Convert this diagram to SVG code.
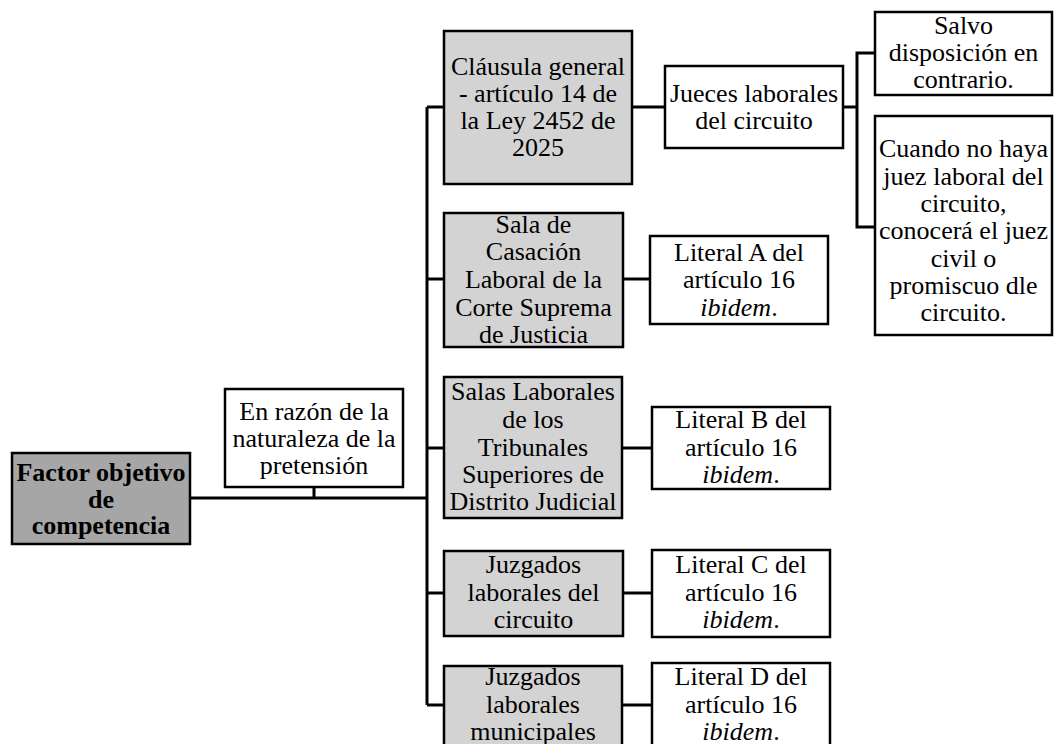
<svg xmlns="http://www.w3.org/2000/svg" width="1055" height="744" viewBox="0 0 1055 744" font-family="'Liberation Serif', 'Times New Roman', 'DejaVu Serif', serif">
<style>
.box{fill:#ffffff;stroke:#000;stroke-width:2.5}
.gray{fill:#d3d3d3;stroke:#000;stroke-width:2.5}
.dark{fill:#a6a6a6;stroke:#000;stroke-width:2.5}
text{font-family:'Liberation Serif','Times New Roman','DejaVu Serif',serif;font-size:26px;fill:#000;text-anchor:middle}
.b{font-weight:bold}
.i{font-style:italic}
.conn{fill:none;stroke:#000;stroke-width:3}
</style>
<rect width="1055" height="744" fill="#ffffff"/>
<g id="connectors">
<path class="conn" d="M190 498 H427"/>
<path class="conn" d="M314 487 V498"/>
<path class="conn" d="M427 107 V705"/>
<path class="conn" d="M427 107 H444"/>
<path class="conn" d="M427 279 H444"/>
<path class="conn" d="M427 448 H444"/>
<path class="conn" d="M427 593 H444"/>
<path class="conn" d="M427 705 H444"/>
<path class="conn" d="M632 107 H665"/>
<path class="conn" d="M623 279 H650"/>
<path class="conn" d="M622 448 H652"/>
<path class="conn" d="M623 593 H652"/>
<path class="conn" d="M622 705 H652"/>
<path class="conn" d="M843 107 H857"/>
<path class="conn" d="M875 53 H857 V227 H875"/>
</g>
<g id="factor">
<rect class="dark" x="12" y="453" width="178" height="91"/>
<text class="b" x="101" y="481">Factor objetivo</text>
<text class="b" x="101" y="507.5">de</text>
<text class="b" x="101" y="534">competencia</text>
</g>
<g id="razon">
<rect class="box" x="225" y="389" width="178" height="98"/>
<text x="314" y="419.5">En razón de la</text>
<text x="314" y="446.5">naturaleza de la</text>
<text x="314" y="473.5">pretensión</text>
</g>
<g id="clausula">
<rect class="gray" x="444" y="31" width="188" height="153"/>
<text x="538" y="74.5">Cláusula general</text>
<text x="538" y="101.5">- artículo 14 de</text>
<text x="538" y="129">la Ley 2452 de</text>
<text x="538" y="156">2025</text>
</g>
<g id="jueces">
<rect class="box" x="665" y="66" width="178" height="82"/>
<text x="754" y="101.5">Jueces laborales</text>
<text x="754" y="128.5">del circuito</text>
</g>
<g id="salvo">
<rect class="box" x="875" y="12" width="177" height="83"/>
<text x="963.5" y="33.5">Salvo</text>
<text x="963.5" y="60.5">disposición en</text>
<text x="963.5" y="87.5">contrario.</text>
</g>
<g id="cuando">
<rect class="box" x="875" y="116" width="177" height="219"/>
<text x="963.5" y="157">Cuando no haya</text>
<text x="963.5" y="184.5">juez laboral del</text>
<text x="963.5" y="212">circuito,</text>
<text x="963.5" y="239">conocerá el juez</text>
<text x="963.5" y="266.5">civil o</text>
<text x="963.5" y="293.5">promiscuo dle</text>
<text x="963.5" y="320.5">circuito.</text>
</g>
<g id="casacion">
<rect class="gray" x="444" y="213" width="179" height="134"/>
<text x="533.5" y="232.5">Sala de</text>
<text x="533.5" y="260">Casación</text>
<text x="533.5" y="288">Laboral de la</text>
<text x="533.5" y="315.5">Corte Suprema</text>
<text x="533.5" y="342.5">de Justicia</text>
</g>
<g id="literalA">
<rect class="box" x="650" y="236" width="178" height="88"/>
<text x="739" y="260.5">Literal A del</text>
<text x="739" y="288">artículo 16</text>
<text class="i" x="739" y="315.5">ibidem<tspan font-style="normal">.</tspan></text>
</g>
<g id="salas">
<rect class="gray" x="444" y="377" width="178" height="141"/>
<text x="533" y="400">Salas Laborales</text>
<text x="533" y="428">de los</text>
<text x="533" y="455.5">Tribunales</text>
<text x="533" y="483">Superiores de</text>
<text x="533" y="510">Distrito Judicial</text>
</g>
<g id="literalB">
<rect class="box" x="652" y="407" width="178" height="82"/>
<text x="741" y="428">Literal B del</text>
<text x="741" y="455.5">artículo 16</text>
<text class="i" x="741" y="483">ibidem<tspan font-style="normal">.</tspan></text>
</g>
<g id="juzgadosCircuito">
<rect class="gray" x="444" y="551" width="179" height="85"/>
<text x="533.5" y="573">Juzgados</text>
<text x="533.5" y="600.5">laborales del</text>
<text x="533.5" y="628">circuito</text>
</g>
<g id="literalC">
<rect class="box" x="652" y="550" width="178" height="87"/>
<text x="741" y="573">Literal C del</text>
<text x="741" y="600.5">artículo 16</text>
<text class="i" x="741" y="628">ibidem<tspan font-style="normal">.</tspan></text>
</g>
<g id="juzgadosMunicipales">
<rect class="gray" x="444" y="666" width="178" height="100"/>
<text x="533" y="685">Juzgados</text>
<text x="533" y="712.5">laborales</text>
<text x="533" y="740">municipales</text>
</g>
<g id="literalD">
<rect class="box" x="652" y="663" width="178" height="100"/>
<text x="741" y="685">Literal D del</text>
<text x="741" y="712.5">artículo 16</text>
<text class="i" x="741" y="740">ibidem<tspan font-style="normal">.</tspan></text>
</g>
</svg>
